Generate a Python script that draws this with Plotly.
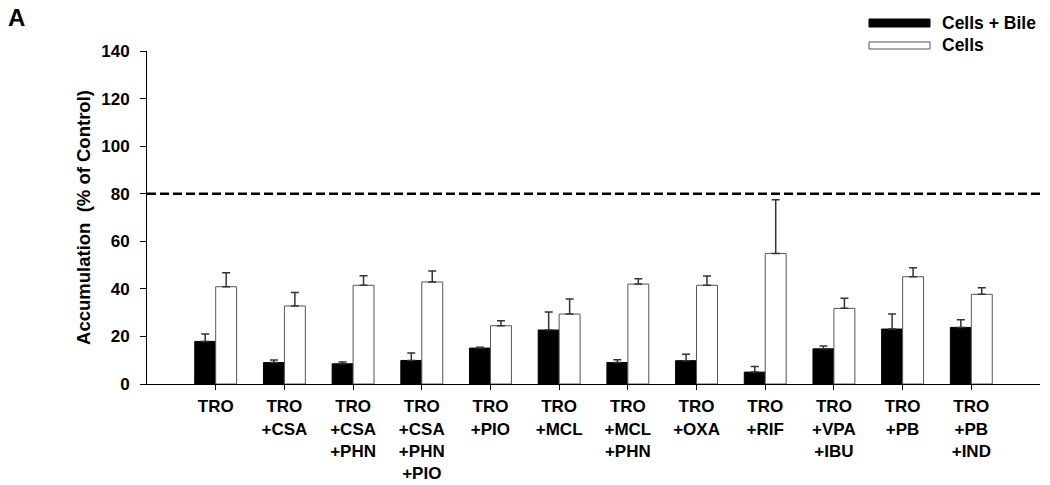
import plotly.graph_objects as go

categories = ["TRO", "TRO+CSA", "TRO+CSA+PHN", "TRO+CSA+PHN+PIO", "TRO+PIO", "TRO+MCL",
              "TRO+MCL+PHN", "TRO+OXA", "TRO+RIF", "TRO+VPA+IBU", "TRO+PB", "TRO+PB+IND"]
tick_labels = ["TRO", "TRO<br>+CSA", "TRO<br>+CSA<br>+PHN", "TRO<br>+CSA<br>+PHN<br>+PIO", "TRO<br>+PIO",
               "TRO<br>+MCL", "TRO<br>+MCL<br>+PHN", "TRO<br>+OXA", "TRO<br>+RIF", "TRO<br>+VPA<br>+IBU",
               "TRO<br>+PB", "TRO<br>+PB<br>+IND"]
cells_bile = [17.9, 9.0, 8.5, 9.9, 15.1, 22.7, 9.0, 9.8, 5.0, 14.8, 23.1, 23.8]
cells_bile_err = [3.1, 1.1, 0.7, 3.1, 0.3, 7.6, 1.2, 2.7, 2.4, 1.2, 6.3, 3.2]
cells = [40.9, 32.8, 41.5, 42.9, 24.5, 29.4, 42.0, 41.5, 54.9, 31.8, 45.1, 37.7]
cells_err = [5.9, 5.7, 4.0, 4.6, 2.1, 6.3, 2.3, 3.9, 22.6, 4.3, 3.8, 2.8]
threshold = 80

FONT = "Liberation Sans, Arial, sans-serif"

fig = go.Figure()
fig.add_trace(go.Bar(
    x=categories, y=cells_bile, name="Cells + Bile",
    marker=dict(color="black", line=dict(color="black", width=1)),
    error_y=dict(type="data", symmetric=False, array=cells_bile_err,
                 arrayminus=[0] * len(cells_bile), color="#333333", thickness=1.5, width=4),
))
fig.add_trace(go.Bar(
    x=categories, y=cells, name="Cells",
    marker=dict(color="white", line=dict(color="#555555", width=1)),
    error_y=dict(type="data", symmetric=False, array=cells_err,
                 arrayminus=[0] * len(cells), color="#333333", thickness=1.5, width=4),
))

fig.add_shape(type="line", xref="paper", yref="y", x0=0, x1=1, y0=threshold, y1=threshold,
              line=dict(color="black", width=2.5, dash="9px,4px"))

# manual legend (wide swatches as in the reference)
PW, PH, L, B = 893, 333, 147, 384
fig.add_shape(type="rect", xref="paper", yref="paper", x0=(869 - L) / PW, x1=(930 - L) / PW,
              y0=(B - 27) / PH, y1=(B - 19) / PH, fillcolor="black", line=dict(color="black", width=1))
fig.add_shape(type="rect", xref="paper", yref="paper", x0=(869 - L) / PW, x1=(930 - L) / PW,
              y0=(B - 49) / PH, y1=(B - 42) / PH, fillcolor="white", line=dict(color="#555555", width=1))
fig.add_annotation(xref="paper", yref="paper", x=(940 - L) / PW, y=(B - 23) / PH,
                   text="Cells + Bile", showarrow=False, xanchor="left", yanchor="middle",
                   font=dict(family=FONT, size=17.5, color="black", weight="bold"))
fig.add_annotation(xref="paper", yref="paper", x=(940 - L) / PW, y=(B - 45) / PH,
                   text="Cells", showarrow=False, xanchor="left", yanchor="middle",
                   font=dict(family=FONT, size=17.5, color="black", weight="bold"))
fig.add_annotation(xref="paper", yref="paper", x=(6 - L) / PW, y=(B - 18) / PH,
                   text="A", showarrow=False, xanchor="left", yanchor="middle",
                   font=dict(family=FONT, size=24, color="black", weight="bold"))

fig.update_layout(
    width=1050, height=485,
    margin=dict(l=147, r=10, t=51, b=101),
    paper_bgcolor="white", plot_bgcolor="white",
    barmode="group", bargap=0.39, bargroupgap=0,
    showlegend=False,
    font=dict(family=FONT, color="black"),
)
fig.update_xaxes(
    type="category", range=[-1, 12], automargin=False,
    tickmode="array", tickvals=categories, ticktext=tick_labels,
    tickfont=dict(family=FONT, size=17, color="black", weight="bold"),
    ticklabelstandoff=2,
    showline=True, linecolor="black", linewidth=1,
    ticks="outside", ticklen=5, tickcolor="black",
    showgrid=False, zeroline=False,
)
fig.update_yaxes(
    range=[0, 140], tickvals=[0, 20, 40, 60, 80, 100, 120, 140], automargin=False,
    tickfont=dict(family=FONT, size=17, color="black", weight="bold"),
    ticklabelstandoff=7,
    showline=True, linecolor="black", linewidth=1,
    ticks="outside", ticklen=6, tickcolor="black",
    showgrid=False, zeroline=False,
    title=dict(text="Accumulation&nbsp;&nbsp;(% of Control)", standoff=5,
               font=dict(family=FONT, size=18.5, color="black", weight="bold")),
)

fig.write_html("out.html", config={"displayModeBar": False},
               post_script="document.body.style.margin='0px';document.body.style.padding='0px';")
